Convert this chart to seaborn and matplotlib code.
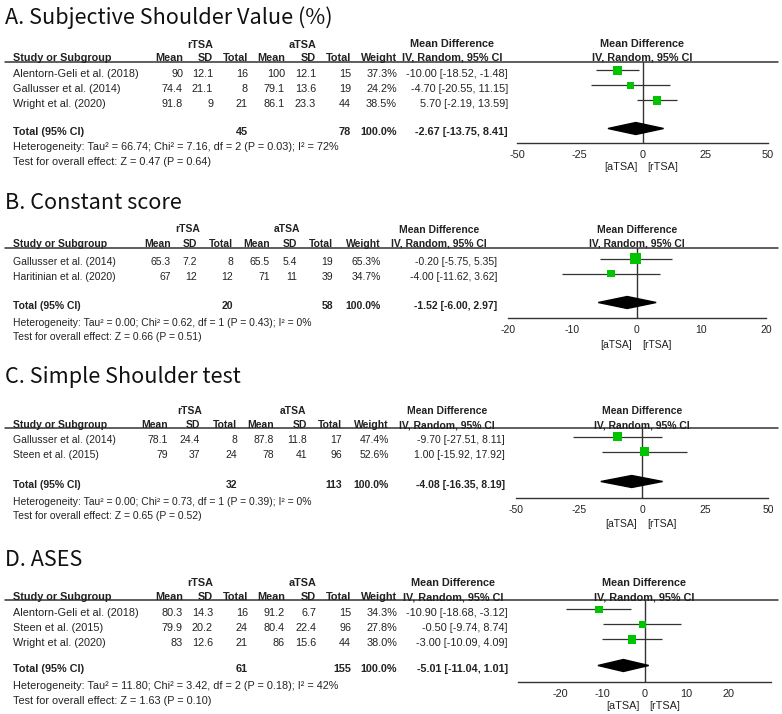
import matplotlib
matplotlib.use("Agg")
import matplotlib.pyplot as plt
import seaborn as sns
import pandas as pd

# ---------------- data ----------------
a_title = "A. Subjective Shoulder Value (%)"
a_studies = ["Alentorn-Geli et al. (2018)", "Gallusser et al. (2014)", "Wright et al. (2020)"]
a_r_mean = [90, 74.4, 91.8]
a_r_sd = [12.1, 21.1, 9]
a_r_n = [16, 8, 21]
a_a_mean = [100, 79.1, 86.1]
a_a_sd = [12.1, 13.6, 23.3]
a_a_n = [15, 19, 44]
a_weight = [37.3, 24.2, 38.5]
a_md = [-10.00, -4.70, 5.70]
a_lo = [-18.52, -20.55, -2.19]
a_hi = [-1.48, 11.15, 13.59]
a_total = [-2.67, -13.75, 8.41]
a_n_total = [45, 78]
a_het = "Heterogeneity: Tau\u00b2 = 66.74; Chi\u00b2 = 7.16, df = 2 (P = 0.03); I\u00b2 = 72%"
a_test = "Test for overall effect: Z = 0.47 (P = 0.64)"
a_ticks = [-50, -25, 0, 25, 50]
a_xlim = [-50, 50]

b_title = "B. Constant score"
b_studies = ["Gallusser et al. (2014)", "Haritinian et al. (2020)"]
b_r_mean = [65.3, 67]
b_r_sd = [7.2, 12]
b_r_n = [8, 12]
b_a_mean = [65.5, 71]
b_a_sd = [5.4, 11]
b_a_n = [19, 39]
b_weight = [65.3, 34.7]
b_md = [-0.20, -4.00]
b_lo = [-5.75, -11.62]
b_hi = [5.35, 3.62]
b_total = [-1.52, -6.00, 2.97]
b_n_total = [20, 58]
b_het = "Heterogeneity: Tau\u00b2 = 0.00; Chi\u00b2 = 0.62, df = 1 (P = 0.43); I\u00b2 = 0%"
b_test = "Test for overall effect: Z = 0.66 (P = 0.51)"
b_ticks = [-20, -10, 0, 10, 20]
b_xlim = [-20, 20]

c_title = "C. Simple Shoulder test"
c_studies = ["Gallusser et al. (2014)", "Steen et al. (2015)"]
c_r_mean = [78.1, 79]
c_r_sd = [24.4, 37]
c_r_n = [8, 24]
c_a_mean = [87.8, 78]
c_a_sd = [11.8, 41]
c_a_n = [17, 96]
c_weight = [47.4, 52.6]
c_md = [-9.70, 1.00]
c_lo = [-27.51, -15.92]
c_hi = [8.11, 17.92]
c_total = [-4.08, -16.35, 8.19]
c_n_total = [32, 113]
c_het = "Heterogeneity: Tau\u00b2 = 0.00; Chi\u00b2 = 0.73, df = 1 (P = 0.39); I\u00b2 = 0%"
c_test = "Test for overall effect: Z = 0.65 (P = 0.52)"
c_ticks = [-50, -25, 0, 25, 50]
c_xlim = [-50, 50]

d_title = "D. ASES"
d_studies = ["Alentorn-Geli et al. (2018)", "Steen et al. (2015)", "Wright et al. (2020)"]
d_r_mean = [80.3, 79.9, 83]
d_r_sd = [14.3, 20.2, 12.6]
d_r_n = [16, 24, 21]
d_a_mean = [91.2, 80.4, 86]
d_a_sd = [6.7, 22.4, 15.6]
d_a_n = [15, 96, 44]
d_weight = [34.3, 27.8, 38.0]
d_md = [-10.90, -0.50, -3.00]
d_lo = [-18.68, -9.74, -10.09]
d_hi = [-3.12, 8.74, 4.09]
d_total = [-5.01, -11.04, 1.01]
d_n_total = [61, 155]
d_het = "Heterogeneity: Tau\u00b2 = 11.80; Chi\u00b2 = 3.42, df = 2 (P = 0.18); I\u00b2 = 42%"
d_test = "Test for overall effect: Z = 1.63 (P = 0.10)"
d_ticks = [-20, -10, 0, 10, 20]
d_xlim = [-30, 30]

panels = [
    dict(title=a_title, studies=a_studies, r_mean=a_r_mean, r_sd=a_r_sd, r_n=a_r_n,
         a_mean=a_a_mean, a_sd=a_a_sd, a_n=a_a_n, weight=a_weight, md=a_md, lo=a_lo, hi=a_hi,
         total=a_total, n_total=a_n_total, het=a_het, test=a_test, ticks=a_ticks, xlim=a_xlim),
    dict(title=b_title, studies=b_studies, r_mean=b_r_mean, r_sd=b_r_sd, r_n=b_r_n,
         a_mean=b_a_mean, a_sd=b_a_sd, a_n=b_a_n, weight=b_weight, md=b_md, lo=b_lo, hi=b_hi,
         total=b_total, n_total=b_n_total, het=b_het, test=b_test, ticks=b_ticks, xlim=b_xlim),
    dict(title=c_title, studies=c_studies, r_mean=c_r_mean, r_sd=c_r_sd, r_n=c_r_n,
         a_mean=c_a_mean, a_sd=c_a_sd, a_n=c_a_n, weight=c_weight, md=c_md, lo=c_lo, hi=c_hi,
         total=c_total, n_total=c_n_total, het=c_het, test=c_test, ticks=c_ticks, xlim=c_xlim),
    dict(title=d_title, studies=d_studies, r_mean=d_r_mean, r_sd=d_r_sd, r_n=d_r_n,
         a_mean=d_a_mean, a_sd=d_a_sd, a_n=d_a_n, weight=d_weight, md=d_md, lo=d_lo, hi=d_hi,
         total=d_total, n_total=d_n_total, het=d_het, test=d_test, ticks=d_ticks, xlim=d_xlim),
]

# ---------------- layout (pixels) ----------------
layouts = [
    dict(title_y=18, grp_y=45, hdr_y=58, rule_y=62, row0=74, total_y=132, het_y=147, test_y=162,
         axis_y=143, lab_y=167, fs=7.8,
         cols=[183, 213, 248, 285, 316, 351, 397], grp=[200, 303], md_r=508, md_c=452,
         fx=[517, 768]),
    dict(title_y=203, grp_y=229, hdr_y=244, rule_y=248, row0=262, total_y=306, het_y=323, test_y=337,
         axis_y=318, lab_y=345, fs=7.5,
         cols=[171, 197, 233, 270, 297, 333, 381], grp=[188, 287], md_r=497, md_c=439,
         fx=[508, 766]),
    dict(title_y=377, grp_y=411, hdr_y=425, rule_y=428, row0=440, total_y=485, het_y=502, test_y=516,
         axis_y=498, lab_y=524, fs=7.5,
         cols=[168, 200, 237, 274, 307, 342, 389], grp=[190, 293], md_r=505, md_c=447,
         fx=[516, 768]),
    dict(title_y=560, grp_y=583, hdr_y=597, rule_y=600, row0=613, total_y=669, het_y=686, test_y=701,
         axis_y=682, lab_y=706, fs=7.8,
         cols=[183, 213, 248, 285, 316, 351, 397], grp=[200, 303], md_r=508, md_c=453,
         fx=[518, 771]),
]
ROW_STEP = 15
MARK_OFF = -3.5
W, H = 782, 714

TXT = "#222222"
LINE = "#333333"
GREEN = "#00C400"

sns.set_style("white")
plt.rcParams["font.family"] = ["Liberation Sans", "DejaVu Sans"]

fig = plt.figure(figsize=(W / 100, H / 100), dpi=100)
bg = fig.add_axes([0, 0, 1, 1])
bg.set_xlim(0, W)
bg.set_ylim(H, 0)
bg.axis("off")


def fmt(v):
    return f"{v:g}"


def T(x, y, s, ha="left", bold=False, fs=7.8, **kw):
    bg.text(x, y, s, ha=ha, va="center", fontsize=fs, color=TXT,
            fontweight="bold" if bold else "normal", **kw)


for p, L in zip(panels, layouts):
    fs = L["fs"]
    # title
    bg.text(5, L["title_y"], p["title"], ha="left", va="center", fontsize=15.6,
            family=["Noto Sans CJK KR", "DejaVu Sans"], color="#111111")
    # group headers
    T(L["grp"][0], L["grp_y"], "rTSA", ha="center", bold=True, fs=fs)
    T(L["grp"][1], L["grp_y"], "aTSA", ha="center", bold=True, fs=fs)
    # column headers
    T(13, L["hdr_y"], "Study or Subgroup", bold=True, fs=fs)
    for x, h in zip(L["cols"], ["Mean", "SD", "Total", "Mean", "SD", "Total", "Weight"]):
        T(x, L["hdr_y"], h, ha="right", bold=True, fs=fs)
    T(L["md_c"], L["hdr_y"] - 14, "Mean Difference", ha="center", bold=True, fs=fs)
    T(L["md_c"], L["hdr_y"], "IV, Random, 95% CI", ha="center", bold=True, fs=fs)
    fc = (L["fx"][0] + L["fx"][1]) / 2
    T(fc, L["hdr_y"] - 14, "Mean Difference", ha="center", bold=True, fs=fs)
    T(fc, L["hdr_y"], "IV, Random, 95% CI", ha="center", bold=True, fs=fs)
    bg.plot([5, 778], [L["rule_y"], L["rule_y"]], color=LINE, lw=1.1)

    n = len(p["studies"])
    rows_y = [L["row0"] + i * ROW_STEP for i in range(n)]
    for i, y in enumerate(rows_y):
        T(13, y, p["studies"][i], fs=fs)
        vals = [fmt(p["r_mean"][i]), fmt(p["r_sd"][i]), str(p["r_n"][i]),
                fmt(p["a_mean"][i]), fmt(p["a_sd"][i]), str(p["a_n"][i]),
                f"{p['weight'][i]:.1f}%"]
        for x, v in zip(L["cols"], vals):
            T(x, y, v, ha="right", fs=fs)
        T(L["md_r"], y, f"{p['md'][i]:.2f} [{p['lo'][i]:.2f}, {p['hi'][i]:.2f}]", ha="right", fs=fs)
    ty = L["total_y"]
    T(13, ty, "Total (95% CI)", bold=True, fs=fs)
    T(L["cols"][2], ty, str(p["n_total"][0]), ha="right", bold=True, fs=fs)
    T(L["cols"][5], ty, str(p["n_total"][1]), ha="right", bold=True, fs=fs)
    T(L["cols"][6], ty, "100.0%", ha="right", bold=True, fs=fs)
    t = p["total"]
    T(L["md_r"], ty, f"{t[0]:.2f} [{t[1]:.2f}, {t[2]:.2f}]", ha="right", bold=True, fs=fs)
    T(13, L["het_y"], p["het"], fs=fs)
    T(13, L["test_y"], p["test"], fs=fs)

    # forest axes
    x0, x1 = L["fx"]
    ax = fig.add_axes([x0 / W, 1 - L["axis_y"] / H, (x1 - x0) / W, (L["axis_y"] - L["rule_y"]) / H])
    ax.set_facecolor("none")
    ax.set_xlim(*p["xlim"])
    ax.set_ylim(L["axis_y"], L["rule_y"])
    for s in ["top", "left", "right"]:
        ax.spines[s].set_visible(False)
    ax.spines["bottom"].set_color(LINE)
    ax.spines["bottom"].set_linewidth(1.0)
    ax.set_yticks([])
    ax.set_xticks(p["ticks"])
    ax.set_xticklabels([str(v) for v in p["ticks"]])
    ax.tick_params(axis="x", direction="inout", length=7, width=1.0, color=LINE,
                   labelsize=fs, labelcolor=TXT, pad=1.5)
    ax.axvline(0, color=LINE, lw=1.0, zorder=1)

    my = [y + MARK_OFF for y in rows_y]
    ax.hlines(my, p["lo"], p["hi"], color=LINE, lw=0.9, zorder=2)
    df = pd.DataFrame({"md": p["md"], "y": my, "w": p["weight"]})
    sns.scatterplot(data=df, x="md", y="y", size="w", sizes=(0, 95), size_norm=(0, 100),
                    marker="s", color=GREEN, edgecolor="none", linewidth=0,
                    legend=False, ax=ax, zorder=3, clip_on=False)
    dy = ty + MARK_OFF
    ax.fill([t[1], t[0], t[2], t[0]], [dy, dy - 6, dy, dy + 6], color="black", zorder=4,
            clip_on=False)
    ax.set_xlabel("")
    ax.set_ylabel("")
    ax.annotate("[aTSA]", xy=(0, L["lab_y"]), xycoords=("data", "data"), xytext=(-3.5, 0),
                textcoords="offset points", ha="right", va="center", fontsize=fs, color=TXT,
                annotation_clip=False)
    ax.annotate("[rTSA]", xy=(0, L["lab_y"]), xycoords=("data", "data"), xytext=(3.5, 0),
                textcoords="offset points", ha="left", va="center", fontsize=fs, color=TXT,
                annotation_clip=False)

fig.savefig("out.png", dpi=100)
